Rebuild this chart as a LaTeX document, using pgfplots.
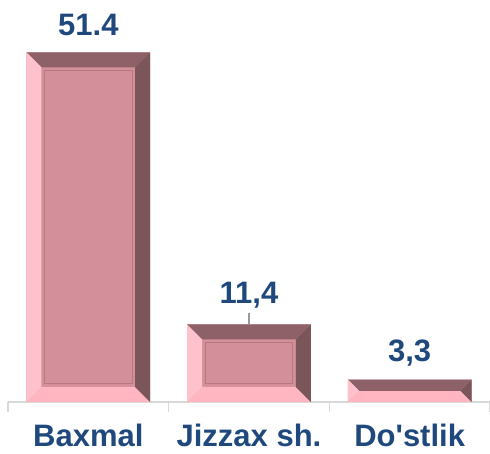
\documentclass[border=0pt]{standalone}
\usepackage{fontspec}
\setmainfont{Liberation Sans}
\usepackage{pgfplots}
\usepackage{pgfplotstable}
\pgfplotsset{compat=1.18}

\definecolor{facecol}{RGB}{212,144,154}
\definecolor{topcol}{RGB}{142,97,104}
\definecolor{rightcol}{RGB}{122,85,90}
\definecolor{leftcol}{RGB}{255,194,204}
\definecolor{botcol}{RGB}{255,182,193}
\definecolor{ridgecol}{RGB}{184,120,128}
\definecolor{labblue}{RGB}{31,73,125}
\definecolor{axgray}{RGB}{217,217,217}

% value, printed label (as in the source: mixed separators), label gap in pt
\pgfplotstableread{
x y lab shift
0 51.4 51.4 17
1 11.4 11,4 21
2 3.3 3,3 18
}\datatable

% axis scale: 482pt / 3 units in x, 402pt / 59.1 units in y
\def\ux{160.667}\def\uy{6.802}
% bevel facets of one bar: #1 = category position, #2 = bar value
\newcommand\bevel[2]{%
  \pgfmathsetmacro\bb{min(15,#2*\uy/2)}%
  \pgfmathsetmacro\xl{#1-0.385}\pgfmathsetmacro\xr{#1+0.385}%
  \pgfmathsetmacro\xil{\xl+\bb/\ux}\pgfmathsetmacro\xir{\xr-\bb/\ux}%
  \pgfmathsetmacro\yb{\bb/\uy}\pgfmathsetmacro\yt{#2-\bb/\uy}%
  \addplot[forget plot, draw=none, fill=botcol]
    coordinates {(\xl,0)(\xr,0)(\xir,\yb)(\xil,\yb)} -- cycle;
  \addplot[forget plot, draw=none, fill=rightcol]
    coordinates {(\xr,0)(\xr,#2)(\xir,\yt)(\xir,\yb)} -- cycle;
  \addplot[forget plot, draw=none, fill=topcol]
    coordinates {(\xr,#2)(\xl,#2)(\xil,\yt)(\xir,\yt)} -- cycle;
  \addplot[forget plot, draw=none, fill=leftcol]
    coordinates {(\xl,#2)(\xl,0)(\xil,\yb)(\xil,\yt)} -- cycle;
}
% thin embossed line round the flat face
\newcommand\ridge[2]{%
  \pgfmathsetmacro\xl{#1-0.385+18/\ux}\pgfmathsetmacro\xr{#1+0.385-18/\ux}%
  \pgfmathsetmacro\yb{18/\uy}\pgfmathsetmacro\yt{#2-18/\uy}%
  \addplot[forget plot, draw=ridgecol, line width=1pt]
    coordinates {(\xl,\yb)(\xr,\yb)(\xr,\yt)(\xl,\yt)} -- cycle;
}

\begin{document}
\begin{tikzpicture}
\useasboundingbox (-8pt,-52pt) rectangle (482pt,402pt);
\begin{axis}[
    scale only axis, width=482pt, height=402pt,
    at={(0,0)}, anchor=south west,
    xmin=-0.5, xmax=2.5, ymin=0, ymax=59.1,
    axis x line*=bottom, hide y axis,
    x axis line style={draw=axgray, line width=1.3pt},
    tick align=outside, major tick length=10pt,
    xtick={0,1,2},
    xticklabels={Baxmal,Jizzax sh.,Do\textquotesingle{}stlik},
    major x tick style={draw=none},
    extra x ticks={-0.5,0.5,1.5,2.5}, extra x tick labels={},
    extra x tick style={major x tick style={draw=axgray, line width=1.3pt}},
    xticklabel style={font=\bfseries\fontsize{31}{31}\selectfont, text=labblue,
        anchor=base, text depth=0pt, inner sep=0pt, yshift=-35pt},
    clip=false,
]
\addplot[ybar, bar width=0.77, fill=facecol, draw=none,
    point meta=explicit symbolic,
    visualization depends on={\thisrow{shift}\as\labshift},
    nodes near coords={\pgfplotspointmeta},
    every node near coord/.append style={font=\bfseries\fontsize{31}{31}\selectfont,
        text=labblue, anchor=base, inner sep=0pt, yshift={\labshift*1pt}}]
    table[x=x, y=y, meta=lab] {\datatable};
\bevel{0}{51.4}
\bevel{1}{11.4}
\bevel{2}{3.3}
\ridge{0}{51.4}
\ridge{1}{11.4}
% leader line from the 11,4 label to its bar
\draw[black!40, line width=1.2pt] (axis cs:1,11.4) -- ([yshift=11pt]axis cs:1,11.4);
\end{axis}
\end{tikzpicture}
\end{document}
